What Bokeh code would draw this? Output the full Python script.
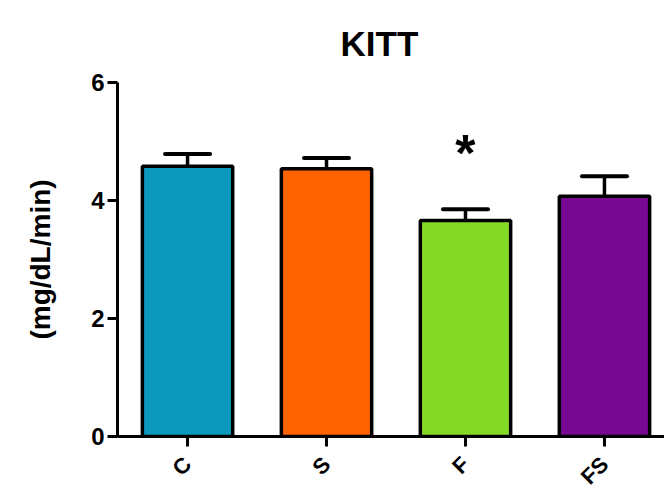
import math
from bokeh.plotting import figure
from bokeh.models import Range1d, FixedTicker, ColumnDataSource
from bokeh.core.properties import value
from bokeh.embed import file_html
from bokeh.resources import INLINE

# ---- data ----
categories = ["C", "S", "F", "FS"]
means = [4.58, 4.54, 3.66, 4.07]
sems = [0.21, 0.18, 0.19, 0.34]
colors = ["#0C98BC", "#FF6200", "#85DA27", "#760892"]
significance = ["", "", "*", ""]
y_ticks = [0, 2, 4, 6]

FONT = "Liberation Sans"

xs = list(range(len(categories)))
upper = [m + s for m, s in zip(means, sems)]

p = figure(frame_width=547, frame_height=354, output_backend="svg", toolbar_location=None,
           x_range=Range1d(-0.504, 3.432), y_range=Range1d(0, 6),
           min_border_left=117, min_border_right=0, min_border_top=82,
           min_border_bottom=59, title="KITT")
p.outline_line_color = None
p.grid.visible = False
p.background_fill_color = "white"
p.border_fill_color = "white"

p.title.text_font = FONT
p.title.text_font_size = "35px"
p.title.text_font_style = "bold"
p.title.text_color = "black"
p.title.align = "left"
p.title.offset = 223
p.title.standoff = 40

src = ColumnDataSource(dict(x=xs, top=means, upper=upper, color=colors))

p.segment(x0="x", y0="top", x1="x", y1="upper", source=src, line_color="black", line_width=3.5)
p.segment(x0=[x - 0.162 for x in xs], y0=upper, x1=[x + 0.162 for x in xs], y1=upper,
          line_color="black", line_width=4, line_cap="round")

p.vbar(x="x", top="top", bottom=0, width=0.65, source=src, fill_color="color",
       line_color="black", line_width=3.5)

sig_x = [x for x, s in zip(xs, significance) if s]
sig_y = [u + 0.95 for u, s in zip(upper, significance) if s]
sig_t = [s for s in significance if s]
p.text(x=sig_x, y=sig_y, text=sig_t, text_font=value(FONT), text_font_style="bold",
       text_font_size="52px", text_align="center", text_baseline="middle", text_color="black")

p.yaxis.ticker = FixedTicker(ticks=y_ticks)
p.yaxis.axis_label = "(mg/dL/min)"
p.yaxis.axis_label_text_font = FONT
p.yaxis.axis_label_text_font_size = "28px"
p.yaxis.axis_label_text_font_style = "bold"
p.yaxis.axis_label_text_color = "black"
p.yaxis.axis_label_standoff = 32
p.yaxis.minor_tick_line_color = None

p.xaxis.ticker = FixedTicker(ticks=xs)
p.xaxis.major_label_overrides = {i: c for i, c in enumerate(categories)}
p.xaxis.major_label_orientation = math.pi / 4
p.xaxis.minor_tick_line_color = None

for ax in (p.xaxis[0], p.yaxis[0]):
    ax.axis_line_width = 3
    ax.axis_line_color = "black"
    ax.major_tick_line_width = 3
    ax.major_tick_line_color = "black"
    ax.major_tick_in = 0
    ax.major_label_text_font = FONT
    ax.major_label_text_font_style = "bold"
    ax.major_label_text_font_size = "23px"
    ax.major_label_text_color = "black"

p.yaxis.major_tick_out = 10
p.yaxis.major_label_standoff = 3
p.yaxis.major_label_text_font_size = "24px"
p.xaxis.major_tick_out = 10
p.xaxis.major_label_standoff = 14
p.xaxis.major_label_text_font_size = "22px"

open("out.html", "w").write(file_html(p, INLINE))
